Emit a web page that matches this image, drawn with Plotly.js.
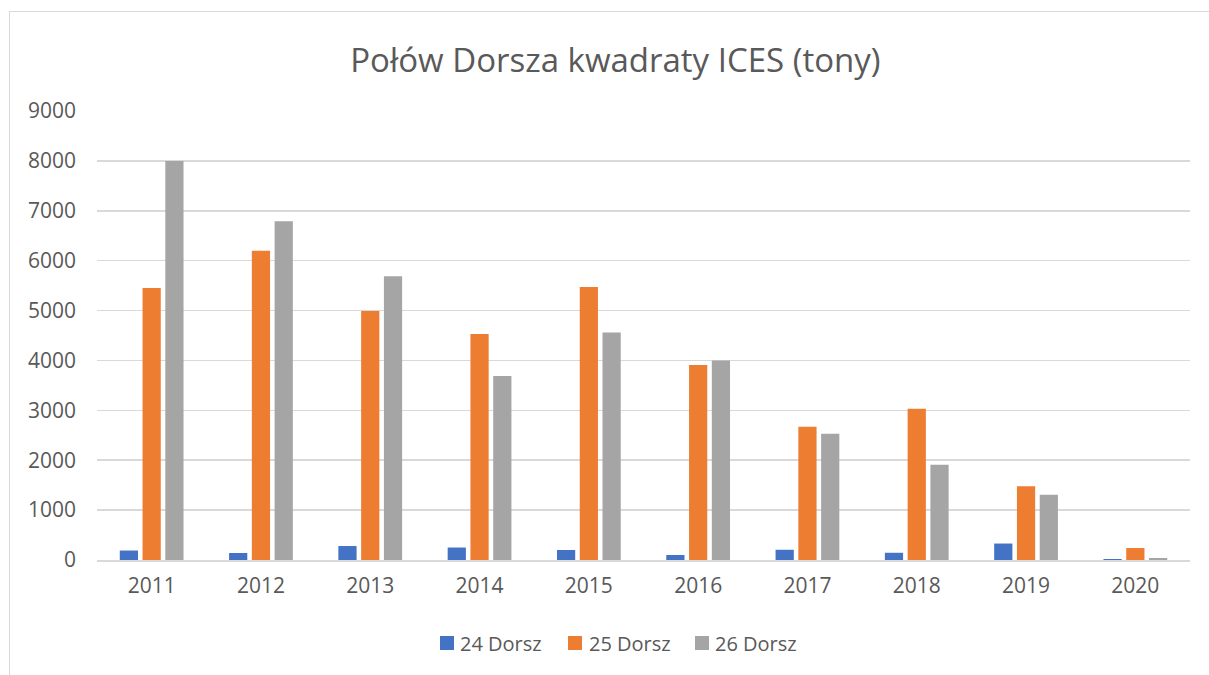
<!DOCTYPE html>
<html>
<head>
<meta charset="utf-8">
<script src="https://cdn.plot.ly/plotly-3.0.1.min.js"></script>
<style>
  html, body { margin: 0; padding: 0; background: #fff; }
  #frame { position: absolute; left: 9px; top: 11px; width: 1400px; height: 900px;
           border-left: 1px solid #D9D9D9; border-top: 1px solid #D9D9D9; }
  #chart { position: absolute; left: 0; top: 0; width: 1209px; height: 675px; }
</style>
</head>
<body>
<div id="frame"></div>
<div id="chart"></div>
<script>
const years = ['2011','2012','2013','2014','2015','2016','2017','2018','2019','2020'];
const seriesNames = ['24 Dorsz','25 Dorsz','26 Dorsz'];
const dorsz24 = [190, 140, 280, 250, 200, 100, 205, 145, 330, 20];
const dorsz25 = [5450, 6200, 4990, 4530, 5470, 3910, 2670, 3030, 1480, 240];
const dorsz26 = [8000, 6790, 5690, 3690, 4560, 4000, 2530, 1910, 1310, 40];
const colors = ['#4472C4', '#ED7D31', '#A5A5A5'];
const yTicks = [0,1000,2000,3000,4000,5000,6000,7000,8000,9000];

const allSeries = [dorsz24, dorsz25, dorsz26];
const traces = allSeries.map((vals, i) => ({
  type: 'bar',
  name: seriesNames[i],
  x: years,
  y: vals,
  marker: { color: colors[i] },
  hoverinfo: 'x+y+name',
  showlegend: false
}));

// Custom legend (pixel layout converted to paper coordinates)
const W = 1209, H = 675, ML = 97, MR = 19, MT = 111, MB = 115;
const PW = W - ML - MR, PH = H - MT - MB;
const px = v => (v - ML) / PW;
const py = v => (H - MB - v) / PH;
const legSquareX = [440, 568, 695];
const legTextX = [458, 587, 713];
const legY = 643;
const shapes = [], annotations = [];
seriesNames.forEach((n, i) => {
  shapes.push({
    type: 'rect', xref: 'paper', yref: 'paper',
    x0: px(legSquareX[i]), x1: px(legSquareX[i] + 14),
    y0: py(legY + 7), y1: py(legY - 7),
    fillcolor: colors[i], line: { width: 0 }
  });
  annotations.push({
    xref: 'paper', yref: 'paper', x: px(legTextX[i]), y: py(legY),
    xanchor: 'left', yanchor: 'middle', showarrow: false,
    text: n, font: { size: 20, color: '#595959' }
  });
});

const font = 'Open Sans, DejaVu Sans, sans-serif';
const layout = {
  width: W, height: H,
  paper_bgcolor: 'rgba(0,0,0,0)',
  plot_bgcolor: 'rgba(0,0,0,0)',
  margin: { l: ML, r: MR, t: MT, b: MB },
  barmode: 'group',
  bargap: 0.375,
  bargroupgap: 0.2,
  title: {
    text: 'Połów Dorsza kwadraty ICES (tony)',
    font: { family: font, size: 33, color: '#595959' },
    x: 0.509, xanchor: 'center', y: 0.91, yanchor: 'middle'
  },
  font: { family: font, color: '#595959' },
  xaxis: {
    type: 'category',
    showgrid: false,
    showline: true, linecolor: '#D9D9D9', linewidth: 1.5,
    ticks: '', tickfont: { size: 21, color: '#595959' },
    ticklabelstandoff: 6
  },
  yaxis: {
    range: [0, 9000],
    tickvals: yTicks,
    ticktext: yTicks.map(String),
    showgrid: true, gridcolor: '#D9D9D9', gridwidth: 1.5,
    zeroline: false,
    showline: false,
    ticks: '', tickfont: { size: 21, color: '#595959' },
    ticklabelstandoff: 20
  },
  showlegend: false,
  shapes: shapes,
  annotations: annotations
};

Plotly.newPlot('chart', traces, layout, { displayModeBar: false, staticPlot: true });
</script>
</body>
</html>
